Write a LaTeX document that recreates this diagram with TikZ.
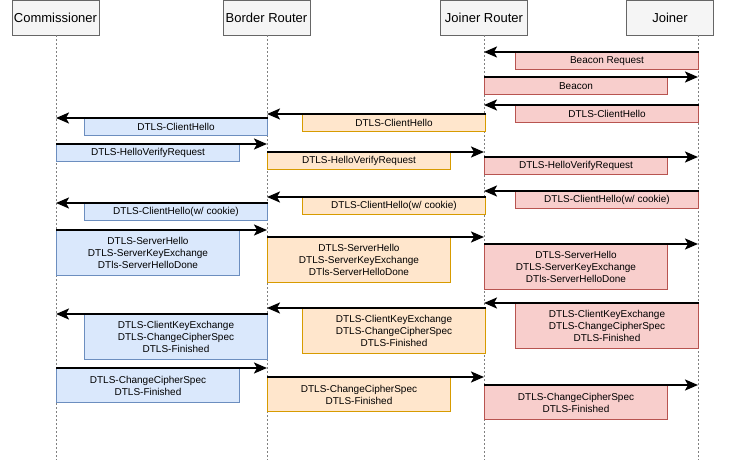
\documentclass[tikz,border=0pt]{standalone}
\usepackage{fontspec}
\setmainfont{Liberation Sans}
\usetikzlibrary{arrows.meta}

\definecolor{actfill}{HTML}{F5F5F5}
\definecolor{actline}{HTML}{666666}
\definecolor{bluefill}{HTML}{DAE8FC}
\definecolor{blueline}{HTML}{6C8EBF}
\definecolor{orangefill}{HTML}{FFE6CC}
\definecolor{orangeline}{HTML}{D79B00}
\definecolor{redfill}{HTML}{F8CECC}
\definecolor{redline}{HTML}{B85450}

\tikzset{
  actor/.style={draw=actline, fill=actfill, minimum width=87, minimum height=35,
    inner sep=0pt, font=\fontsize{13}{15}\selectfont},
  lifeline/.style={gray, line width=1pt, dash pattern=on 2pt off 2pt},
  msgbox/.style={minimum width=183, minimum height=17, inner sep=0pt, align=center,
    anchor=north west, line width=1pt, font=\fontsize{10}{12}\selectfont},
  bluebox/.style={msgbox, draw=blueline, fill=bluefill},
  orangebox/.style={msgbox, draw=orangeline, fill=orangefill},
  redbox/.style={msgbox, draw=redline, fill=redfill},
  msg/.style={line width=2pt, -{Stealth[length=13pt, width=11pt, inset=3pt]}}
}

\begin{document}
\begin{tikzpicture}[x=1pt, y=-1pt]
  \useasboundingbox (0,0) rectangle (730,470);
  % Actors
  \node[actor] (cm) at (55.5,17.5) {Commissioner};
  \node[actor] (br) at (266.5,17.5) {Border Router};
  \node[actor] (jr) at (484,17.5) {Joiner Router};
  \node[actor] (jn) at (670,17.5) {Joiner};
  % Lifelines
  \coordinate (cmL) at (56,460);
  \coordinate (brL) at (267,460);
  \coordinate (jrL) at (484,460);
  \coordinate (jnL) at (698,460);
  \foreach \a in {cm,br,jr,jn}
    \draw[lifeline] (\a.south -| \a L) -- (\a L);

  % Beacon
  \node[redbox] (bcr) at (515,52) {Beacon Request};
  \node[redbox] (bc) at (484,77) {Beacon};
  \draw[msg] (bcr.north east) -- (jrL |- bcr.north);
  \draw[msg] (bc.north west) -- (jnL |- bc.north);

  % ClientHello
  \node[redbox] (ch3) at (515,105) {DTLS-ClientHello};
  \node[orangebox] (ch2) at (302,114) {DTLS-ClientHello};
  \node[bluebox] (ch1) at (84,118) {DTLS-ClientHello};
  \draw[msg] (ch3.north east) -- (jrL |- ch3.north);
  \draw[msg] (ch2.north east) -- (brL |- ch2.north);
  \draw[msg] (ch1.north east) -- (cmL |- ch1.north);

  % HelloVerifyRequest
  \node[bluebox] (hv1) at (56,144) {DTLS-HelloVerifyRequest};
  \node[orangebox] (hv2) at (267,152) {DTLS-HelloVerifyRequest};
  \node[redbox] (hv3) at (484,157) {DTLS-HelloVerifyRequest};
  \draw[msg] (hv1.north west) -- (brL |- hv1.north);
  \draw[msg] (hv2.north west) -- (jrL |- hv2.north);
  \draw[msg] (hv3.north west) -- (jnL |- hv3.north);

  % ClientHello with cookie
  \node[redbox] (ck3) at (515,191) {DTLS-ClientHello(w/ cookie)};
  \node[orangebox] (ck2) at (302,197) {DTLS-ClientHello(w/ cookie)};
  \node[bluebox] (ck1) at (84,203) {DTLS-ClientHello(w/ cookie)};
  \draw[msg] (ck3.north east) -- (jrL |- ck3.north);
  \draw[msg] (ck2.north east) -- (brL |- ck2.north);
  \draw[msg] (ck1.north east) -- (cmL |- ck1.north);

  % ServerHello
  \node[bluebox, minimum height=45] (sh1) at (56,230)
    {DTLS-ServerHello\\DTLS-ServerKeyExchange\\DTls-ServerHelloDone};
  \node[orangebox, minimum height=45] (sh2) at (267,237)
    {DTLS-ServerHello\\DTLS-ServerKeyExchange\\DTls-ServerHelloDone};
  \node[redbox, minimum height=45] (sh3) at (484,244)
    {DTLS-ServerHello\\DTLS-ServerKeyExchange\\DTls-ServerHelloDone};
  \draw[msg] (sh1.north west) -- (brL |- sh1.north);
  \draw[msg] (sh2.north west) -- (jrL |- sh2.north);
  \draw[msg] (sh3.north west) -- (jnL |- sh3.north);

  % ClientKeyExchange
  \node[redbox, minimum height=45] (kx3) at (515,303)
    {DTLS-ClientKeyExchange\\DTLS-ChangeCipherSpec\\DTLS-Finished};
  \node[orangebox, minimum height=45] (kx2) at (302,308)
    {DTLS-ClientKeyExchange\\DTLS-ChangeCipherSpec\\DTLS-Finished};
  \node[bluebox, minimum height=45] (kx1) at (84,314)
    {DTLS-ClientKeyExchange\\DTLS-ChangeCipherSpec\\DTLS-Finished};
  \draw[msg] (kx3.north east) -- (jrL |- kx3.north);
  \draw[msg] (kx2.north east) -- (brL |- kx2.north);
  \draw[msg] (kx1.north east) -- (cmL |- kx1.north);

  % ChangeCipherSpec
  \node[bluebox, minimum height=34] (cs1) at (56,368)
    {DTLS-ChangeCipherSpec\\DTLS-Finished};
  \node[orangebox, minimum height=34] (cs2) at (267,377)
    {DTLS-ChangeCipherSpec\\DTLS-Finished};
  \node[redbox, minimum height=34] (cs3) at (484,385)
    {DTLS-ChangeCipherSpec\\DTLS-Finished};
  \draw[msg] (cs1.north west) -- (brL |- cs1.north);
  \draw[msg] (cs2.north west) -- (jrL |- cs2.north);
  \draw[msg] (cs3.north west) -- (jnL |- cs3.north);
\end{tikzpicture}
\end{document}
